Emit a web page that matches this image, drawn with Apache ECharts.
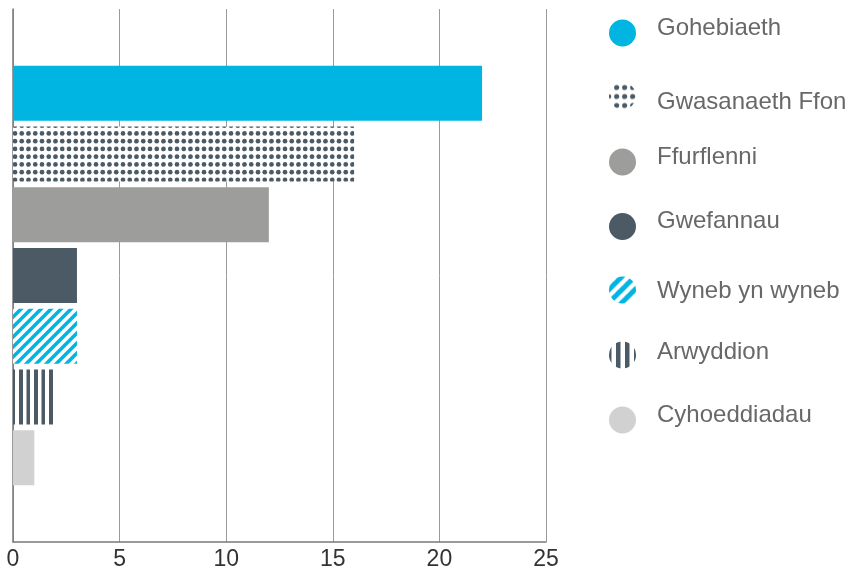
<!DOCTYPE html>
<html>
<head>
<meta charset="utf-8">
<script src="https://cdn.jsdelivr.net/npm/echarts@6/dist/echarts.min.js"></script>
<style>html,body{margin:0;padding:0;background:#fff}#c{width:848px;height:573px}</style>
</head>
<body>
<div id="c"></div>
<script>
const categories = ['Gohebiaeth', 'Gwasanaeth Ffon', 'Ffurflenni', 'Gwefannau', 'Wyneb yn wyneb', 'Arwyddion', 'Cyhoeddiadau'];
const values = [22, 16, 12, 3, 3, 2, 1];
const xMin = 0, xMax = 25, xInterval = 5;

const CYAN = '#00b5e2', DARK = '#4b5a65', GREY = '#9d9d9c', LIGHT = '#d1d1d1';

function dots(W, H, nx, ny, x0, y0, r) {
  const c = document.createElement('canvas');
  c.width = W; c.height = H;
  const g = c.getContext('2d');
  g.fillStyle = '#fff'; g.fillRect(0, 0, W, H);
  g.fillStyle = DARK;
  for (let i = 0; i < nx; i++) for (let j = 0; j < ny; j++) {
    const x = x0 + (W / nx) * i, y = y0 + (H / ny) * j;
    for (let dx = -1; dx <= 1; dx++) for (let dy = -1; dy <= 1; dy++) {
      g.beginPath(); g.arc(x + dx * W, y + dy * H, r, 0, Math.PI * 2); g.fill();
    }
  }
  return c;
}
function diag(S, lw) {
  const c = document.createElement('canvas');
  c.width = S; c.height = S;
  const g = c.getContext('2d');
  g.fillStyle = '#fff'; g.fillRect(0, 0, S, S);
  g.strokeStyle = CYAN; g.lineWidth = lw;
  for (let k = -1; k <= 1; k++) {
    g.beginPath(); g.moveTo(k * S - 2, S + 2); g.lineTo(k * S + S + 2, -2); g.stroke();
  }
  return c;
}
function vert(W, stripes) {
  const H = 4, c = document.createElement('canvas');
  c.width = W; c.height = H;
  const g = c.getContext('2d');
  g.fillStyle = '#fff'; g.fillRect(0, 0, W, H);
  g.fillStyle = DARK;
  stripes.forEach(s => g.fillRect(s[0], 0, s[1] - s[0], H));
  return c;
}
const pat = c => ({ image: c, repeat: 'repeat' });

const barFills = [
  CYAN,
  pat(dots(27, 31, 4, 4, 1.5, 1.7, 2.35)),
  GREY,
  DARK,
  pat(diag(10, 3.5)),
  pat(vert(15, [[4, 8], [11.5, 15]])),
  LIGHT
];
const iconFills = [
  CYAN,
  pat(dots(8, 9, 1, 1, 7.7, 5, 2.6)),
  GREY,
  DARK,
  pat(diag(13, 5)),
  pat(vert(9, [[0, 2.5], [7, 9]])),
  LIGHT
];

const iconCenters = [33, 96, 162, 226.5, 290, 355, 420];
const textCenters = [27, 101, 156, 220, 290, 351, 414];

const iconLegends = categories.map((name, i) => ({
  data: [{ name: name, itemStyle: { color: iconFills[i] } }],
  left: 609, top: iconCenters[i] - 13.5, padding: 0,
  icon: 'circle', itemWidth: 27, itemHeight: 27,
  selectedMode: false,
  formatter: () => '',
  textStyle: { fontSize: 1 }
}));
const textLegends = categories.map((name, i) => ({
  data: [name],
  left: 652, top: textCenters[i] - 13.5 + 1, padding: 0,
  icon: 'none', itemWidth: 0, itemHeight: 27,
  selectedMode: false,
  textStyle: { fontFamily: 'Liberation Sans', fontSize: 24, color: '#686868' }
}));

const series = categories.map((name, i) => ({
  name: name,
  type: 'bar',
  data: [values[i]],
  barWidth: 55,
  barGap: '10.5%',
  itemStyle: { color: barFills[i] },
  silent: true
}));

const chart = echarts.init(document.getElementById('c'), null, { renderer: 'canvas' });
chart.setOption({
  animation: false,
  backgroundColor: '#fff',
  legend: iconLegends.concat(textLegends),
  grid: { left: 13, right: 302, top: 9, bottom: 31, containLabel: false },
  xAxis: {
    type: 'value',
    min: xMin, max: xMax, interval: xInterval,
    axisLine: { show: true, lineStyle: { color: '#7a7a7a', width: 1.5 } },
    axisTick: { show: false },
    splitLine: { show: true, lineStyle: { color: '#9a9a9a', width: 1 } },
    axisLabel: { fontFamily: 'Liberation Sans', fontSize: 23, color: '#333', margin: 6 }
  },
  yAxis: {
    type: 'category',
    data: [''],
    inverse: true,
    axisLine: { show: true, lineStyle: { color: '#7a7a7a', width: 1.5 } },
    axisTick: { show: false },
    axisLabel: { show: false }
  },
  series: series
});
</script>
</body>
</html>
